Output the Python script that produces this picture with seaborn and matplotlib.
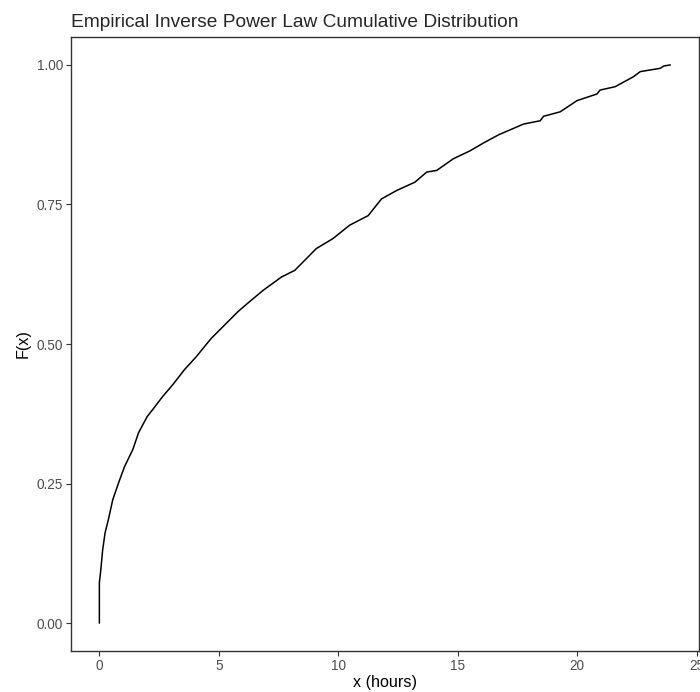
import numpy as np
import pandas as pd
import matplotlib
matplotlib.use('Agg')
import matplotlib.pyplot as plt
import seaborn as sns

# Points
hours = [0.0, 0.0, 0.05, 0.14, 0.24, 0.38, 0.56, 0.81, 1.05, 1.40, 1.64, 2.0,
         2.24, 2.65, 3.07, 3.56, 4.05, 4.68, 5.10, 5.80, 6.29, 6.85, 7.62,
         8.18, 8.55, 9.08, 9.78, 10.48, 11.25, 11.81, 12.44, 13.21, 13.70,
         14.12, 14.82, 15.51, 16.07, 16.72, 17.75, 18.45, 18.59, 19.29, 19.78,
         19.99, 20.83, 20.96, 21.59, 22.36, 22.64, 23.48, 23.62, 23.90]
cdf = [0.0, 0.073, 0.091, 0.132, 0.162, 0.186, 0.221, 0.252, 0.280, 0.311,
       0.341, 0.370, 0.383, 0.406, 0.427, 0.454, 0.477, 0.510, 0.528, 0.558,
       0.576, 0.596, 0.620, 0.632, 0.648, 0.671, 0.689, 0.713, 0.730, 0.760,
       0.775, 0.790, 0.808, 0.811, 0.832, 0.846, 0.860, 0.875, 0.894, 0.900,
       0.908, 0.916, 0.930, 0.936, 0.948, 0.955, 0.961, 0.979, 0.988, 0.994,
       0.998, 1.0]
x_ticks = [0, 5, 10, 15, 20, 25]
y_ticks = [0.00, 0.25, 0.50, 0.75, 1.00]

df = pd.DataFrame({'x': hours, 'F': cdf})

sns.set_style('white')
plt.rcParams['font.family'] = ['Liberation Sans', 'DejaVu Sans']

fig = plt.figure(figsize=(7, 6.92), dpi=100)
ax = fig.add_axes([0.101, 0.0592, 0.8976, 0.8873])

sns.lineplot(data=df, x='x', y='F', color='black', linewidth=1.1, ax=ax,
             estimator=None, sort=False)

ax.set_xlim(-1.2, 25.1)
ax.set_ylim(-0.05, 1.05)
ax.set_xticks(x_ticks)
ax.set_yticks(y_ticks)
ax.set_xticklabels([str(t) for t in x_ticks])
ax.set_yticklabels([f'{t:.2f}' for t in y_ticks])

for s in ax.spines.values():
    s.set_color('#333333')
    s.set_linewidth(1.0)
    s.set_visible(True)
ax.tick_params(axis='both', length=3.5, width=0.8, color='#333333',
               labelcolor='#4d4d4d', labelsize=9.8, pad=2, bottom=True, left=True)

ax.set_xlabel('x (hours)', fontsize=11.6, color='black', labelpad=2)
ax.set_ylabel('F(x)', fontsize=11.6, color='black', labelpad=4)
ax.set_title('Empirical Inverse Power Law Cumulative Distribution',
             fontsize=13.8, loc='left', pad=7)

fig.savefig('out.png', dpi=100)
